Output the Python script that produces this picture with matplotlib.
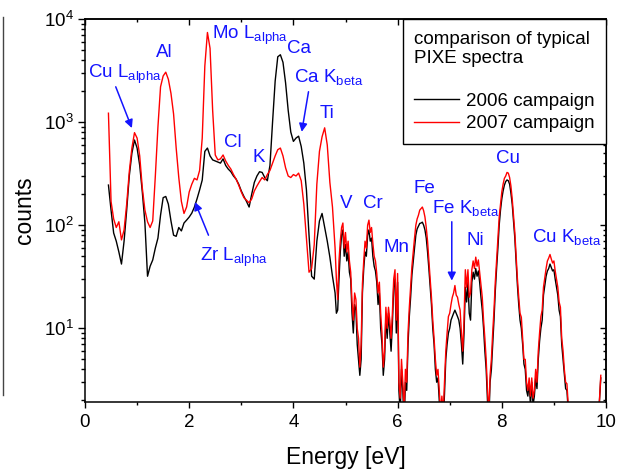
import numpy as np
import matplotlib
matplotlib.use("Agg")
import matplotlib.pyplot as plt
from matplotlib.ticker import MultipleLocator, LogLocator, NullFormatter
from matplotlib.lines import Line2D

plt.rcParams['font.family'] = ['Liberation Sans', 'DejaVu Sans']
plt.rcParams['mathtext.fontset'] = 'custom'
plt.rcParams['mathtext.rm'] = 'Liberation Sans'
plt.rcParams['mathtext.it'] = 'Liberation Sans:italic'
plt.rcParams['mathtext.default'] = 'regular'

# energy channels [eV]: coarse below 4.8 eV, finer above, last three coarse again
energy = np.concatenate([np.arange(0.45, 4.751, 0.05),
                         np.arange(4.80, 9.776, 0.025),
                         [9.80, 9.85, 9.90]])

# 2007 campaign (red)
counts_2007 = [
    # 0.45 - 4.75 eV (0.05 eV)
    1220, 170, 115, 95, 108, 72, 90, 160, 330, 560,
    790, 700, 470, 230, 140, 108, 95, 110, 300, 900,
    2200, 2800, 3050, 2600, 1900, 1200, 560, 290, 170, 130,
    150, 210, 250, 285, 275, 340, 700, 3500, 7400, 5200,
    1300, 480, 430, 440, 480, 420, 380, 350, 310, 280,
    245, 210, 185, 175, 165, 180, 215, 240, 265, 290,
    275, 310, 340, 400, 470, 540, 560, 470, 360, 300,
    290, 310, 300, 320, 270, 160, 75, 35, 38, 65,
    250, 520, 720, 880, 600, 260, 150,
    # 4.80 - 9.775 eV (0.025 eV)
    60, 30, 19, 45, 70, 95, 105, 60, 85, 55,
    70, 45, 35, 18, 12, 22, 19, 10, 8, 4.2,
    7, 27, 45, 70, 60, 100, 112, 85, 95, 67,
    50, 45, 34, 22, 28, 14, 9, 4.2, 6, 16,
    10, 16, 12, 8, 14, 30, 37, 12, 34, 3,
    2.1, 5, 3, 1.5, 4, 3, 9, 16, 25, 40,
    55, 75, 100, 115, 125, 140, 145, 150, 138, 120,
    95, 70, 45, 30, 20, 12, 8, 5, 3.5, 4,
    2.5, 1.5, 2.2, 1.5, 3, 6, 9, 13, 14, 17,
    20, 22, 26, 21, 20, 17, 15, 9, 6, 12,
    37, 25, 37, 20, 22, 37, 45, 38, 49, 40,
    46, 35, 27, 20, 12, 8, 5, 2.5, 1.5, 3.5,
    5, 9, 15, 28, 45, 70, 120, 160, 210, 250,
    285, 300, 325, 320, 290, 240, 180, 125, 85, 50,
    30, 20, 14, 12.8, 8, 5, 5, 3, 2.5, 3.3,
    2.2, 3.3, 2.1, 2.5, 4, 3, 6, 9, 13, 15,
    25, 31, 38, 45, 48, 52, 47, 43, 45, 36,
    30, 25, 18, 16, 8, 6.1, 4, 3, 2.9, 1.8,
    1.2, 1.2, 1.2, 1.2, 1.2, 1.2, 1.2, 1.2, 1.2, 1.2,
    1.2, 1.2, 1.2, 1.2, 1.2, 1.2, 1.2, 1.2, 1.2, 1.2,
    # 9.80 - 9.90 eV
    1.2, 1.2, 3.5,
]

# 2006 campaign (black)
counts_2006 = [
    # 0.45 - 4.75 eV (0.05 eV)
    245, 140, 84, 70, 55, 42, 70, 140, 300, 500,
    670, 560, 380, 210, 105, 32, 40, 46, 60, 75,
    125, 185, 190, 160, 110, 80, 78, 95, 88, 105,
    112, 120, 131, 150, 180, 220, 274, 520, 560, 470,
    430, 420, 410, 400, 440, 380, 350, 330, 300, 280,
    250, 215, 190, 170, 150, 200, 260, 300, 330, 325,
    290, 270, 380, 1000, 2500, 4300, 4500, 3800, 2400, 1300,
    800, 650, 700, 730, 580, 400, 220, 80, 32, 30,
    70, 110, 130, 95, 70, 49, 32,
    # 4.80 - 9.775 eV (0.025 eV)
    22, 14, 15, 30, 55, 80, 90, 50, 65, 45,
    55, 35, 30, 14, 9, 17, 15, 7, 5, 3.5,
    5, 22, 38, 55, 50, 80, 90, 70, 75, 50,
    40, 36, 28, 17, 22, 10, 7, 3.5, 5, 13,
    8, 14, 9, 6, 11, 25, 30, 9, 28, 2.5,
    1.5, 4, 2.5, 1.2, 3, 2.5, 7, 13, 20, 33,
    45, 60, 80, 92, 98, 104, 105, 107, 100, 90,
    75, 55, 38, 25, 17, 10, 7, 4, 3, 3.3,
    2, 1.2, 1.8, 1.2, 2.3, 5, 7, 9, 10, 12,
    13, 14, 15, 14, 13, 12, 10, 7, 4.5, 9,
    25, 18, 28, 14, 12, 28, 35, 30, 38, 32,
    36, 28, 20, 15, 10, 6, 4, 2, 1.2, 3,
    4, 7, 12, 23, 38, 60, 100, 140, 180, 215,
    245, 265, 275, 270, 250, 205, 160, 110, 75, 45,
    26, 17, 12, 10, 7, 4.5, 4, 2.5, 2.2, 3,
    1.8, 3, 1.8, 2.2, 3.3, 2.6, 5, 7.5, 10, 12,
    21, 26, 32, 36, 38, 42, 39, 36, 37, 30,
    25, 21, 15, 13, 7, 5, 3.5, 2.6, 2.5, 1.6,
    1.2, 1.2, 1.2, 1.2, 1.2, 1.2, 1.2, 1.2, 1.2, 1.2,
    1.2, 1.2, 1.2, 1.2, 1.2, 1.2, 1.2, 1.2, 1.2, 1.2,
    # 9.80 - 9.90 eV
    1.2, 1.2, 3.3,
]

# element labels: (text, energy, counts) at text baseline-left
labels = [
    (r"Cu L$_{alpha}$", 0.06, 2700),
    ("Al", 1.36, 4300),
    (r"Mo L$_{alpha}$", 2.44, 6400),
    ("Ca", 3.88, 4700),
    (r"Ca K$_{beta}$", 4.01, 2450),
    ("Ti", 4.51, 1090),
    ("Cl", 2.67, 570),
    ("K", 3.22, 410),
    ("V", 4.89, 146),
    ("Cr", 5.34, 146),
    (r"Zr L$_{alpha}$", 2.21, 45),
    ("Mn", 5.72, 55),
    ("Fe", 6.30, 205),
    (r"Fe K$_{beta}$", 6.66, 131),
    ("Ni", 7.33, 64),
    ("Cu", 7.89, 400),
    (r"Cu K$_{beta}$", 8.58, 68),
]

# arrows: (start, end) in (energy, counts)
arrows = [
    ((0.59, 2200), (0.90, 875)),
    ((4.29, 1970), (4.16, 805)),
    ((2.37, 80), (2.11, 168)),
    ((7.04, 108), (7.04, 29)),
]

fig = plt.figure(figsize=(6.24, 4.75), dpi=100)
ax = fig.add_axes([85 / 624, 1 - 401.5 / 475, (606 - 85) / 624, (401.5 - 19) / 475])

ax.plot(energy, counts_2006, color='black', lw=1.0, label='2006 campaign')
ax.plot(energy, counts_2007, color='red', lw=1.0, label='2007 campaign')

ax.set_yscale('log')
ax.set_xlim(0, 10)
ax.set_ylim(1.95, 1e4)

ax.xaxis.set_major_locator(MultipleLocator(2))
ax.xaxis.set_minor_locator(MultipleLocator(1))
ax.yaxis.set_major_locator(LogLocator(base=10))
ax.yaxis.set_minor_locator(LogLocator(base=10, subs=np.arange(2, 10)))
ax.yaxis.set_minor_formatter(NullFormatter())

ax.tick_params(axis='x', which='major', direction='out', length=4, width=1, labelsize=13.5, pad=5)
ax.tick_params(axis='x', which='minor', direction='out', length=2.5, width=1)
ax.tick_params(axis='y', which='major', direction='out', length=5, width=1, labelsize=13.5, pad=3)
ax.tick_params(axis='y', which='minor', direction='out', length=3, width=1)
for s in ax.spines.values():
    s.set_linewidth(1.1)

# mirrored ticks on top and right, pointing inward
top = ax.secondary_xaxis('top')
top.xaxis.set_major_locator(MultipleLocator(2))
top.xaxis.set_minor_locator(MultipleLocator(1))
top.tick_params(which='major', direction='in', length=4.5, width=1, labeltop=False)
top.tick_params(which='minor', direction='in', length=2.5, width=1)
top.spines['top'].set_linewidth(1.1)
right = ax.secondary_yaxis('right')
right.yaxis.set_major_locator(LogLocator(base=10))
right.yaxis.set_minor_locator(LogLocator(base=10, subs=np.arange(2, 10)))
right.tick_params(which='major', direction='in', length=4.5, width=1, labelright=False)
right.tick_params(which='minor', direction='in', length=2.5, width=1)
right.yaxis.set_minor_formatter(NullFormatter())
right.spines['right'].set_linewidth(1.1)

ax.set_xlabel('Energy [eV]', fontsize=16.5, labelpad=11)
ax.set_ylabel('counts', fontsize=16.5, labelpad=6)

for text, e, c in labels:
    ax.text(e, c, text, color='#1414ff', fontsize=13.5, ha='left', va='baseline')

for (x0, y0), (x1, y1) in arrows:
    ax.annotate('', xy=(x1, y1), xytext=(x0, y0),
                arrowprops=dict(arrowstyle='-|>', color='#1414ff', lw=1.1,
                                mutation_scale=12, shrinkA=0, shrinkB=0))

leg = ax.legend(title='comparison of typical\nPIXE spectra\n', loc='upper right',
                bbox_to_anchor=(1, 1), borderaxespad=0, fontsize=13.5,
                title_fontsize=13.5, alignment='left', fancybox=False,
                framealpha=1, edgecolor='black', handlelength=2.4,
                handletextpad=0.35, labelspacing=0.3, borderpad=0.62)
leg.get_frame().set_linewidth(1.0)

# edge of neighbouring panel at the far left
fig.add_artist(Line2D([3 / 624, 3 / 624], [1 - 17 / 475, 1 - 395 / 475],
                      color='#444444', lw=1))

fig.savefig('out.png', dpi=100)
